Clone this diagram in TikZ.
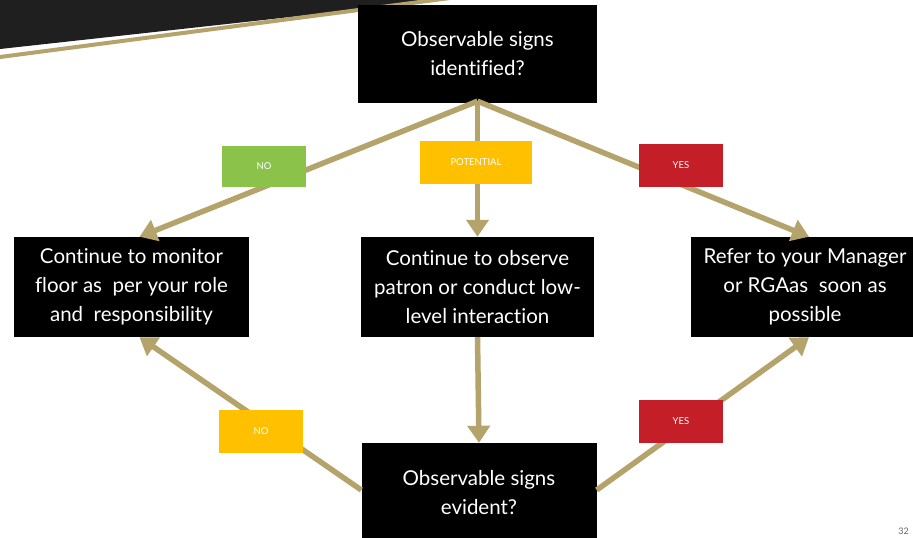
\documentclass[tikz,border=0pt]{standalone}
\usepackage{fontspec}
\setmainfont{Lato}[Ligatures=NoCommon]
\usetikzlibrary{arrows.meta,calc}
\definecolor{tan}{RGB}{181,163,108}
\definecolor{nogreen}{RGB}{139,195,74}
\definecolor{amber}{RGB}{255,192,0}
\definecolor{alarm}{RGB}{196,30,40}
\tikzset{
  box/.style={fill=black,text=white,align=center,inner sep=0pt,font=\fontsize{20.5}{29}\selectfont},
  tag/.style={text=white,minimum height=41pt,inner sep=0pt,font=\fontsize{9.5}{11}\selectfont},
  flow/.style={draw=tan,line width=5.5pt,-{Triangle[length=17pt,width=22pt]}}
}
\begin{document}
\begin{tikzpicture}[x=1pt,y=-1pt]
\useasboundingbox (0,0) rectangle (913,538);
\fill[white] (0,0) rectangle (913,538);
% corner decoration
\fill[black!88] (0,0) -- (445,0) -- (0,49) -- cycle;
\draw[tan,line width=4pt] (0,57) -- (450,-2);
% boxes
\node[box,minimum width=239pt,minimum height=98pt] (top) at (477.5,54) {Observable signs\\identified?};
\node[box,minimum width=235pt,minimum height=100pt] (left) at (131.5,287) {Continue to monitor\\floor as\ \ per your role\\and\ \ responsibility};
\node[box,minimum width=233pt,minimum height=100pt] (mid) at (477.5,287) {Continue to observe\\patron or conduct low-\\level interaction};
\node[box,minimum width=228pt,minimum height=100pt] (right) at (805,287) {Refer to your Manager\\or RGAas\ \ soon as\\possible};
\node[box,minimum width=235pt,minimum height=104pt] (bot) at (479,495) {};
\node[box,fill=none] (bottxt) at (479,493) {Observable signs\\evident?};
% connectors
\coordinate (ts) at ($(top.south)+(0,-2)$);
\draw[flow] (ts) -- ($(left.north)+(8,0)$);
\draw[flow] (ts) -- (mid.north);
\draw[flow] (ts) -- ($(right.north)+(4,0)$);
\draw[flow] (mid.south) -- (bot.north);
\draw[flow] ($(bot.west)+(0,-5)$) -- ($(left.south)+(8,0)$);
\draw[flow] ($(bot.east)+(0,-5)$) -- ($(right.south)+(4,0)$);
% tags
\node[tag,fill=nogreen,minimum width=84pt] (t1) at (264,166) {NO};
\node[tag,fill=amber,minimum width=112pt,minimum height=43pt] (t2) at (476,162) {POTENTIAL};
\node[tag,fill=alarm,minimum width=84pt,minimum height=43pt] (t3) at (681,165) {YES};
\node[tag,fill=amber,minimum width=84pt,minimum height=43pt] (t4) at (261,431) {NO};
\node[tag,fill=alarm,minimum width=84pt,minimum height=43pt] (t5) at (681,421) {YES};
% page number
\node[text=black!60,font=\fontsize{9}{10}\selectfont,anchor=south east,inner sep=1pt] (pg) at (910,536) {32};
\end{tikzpicture}
\end{document}
